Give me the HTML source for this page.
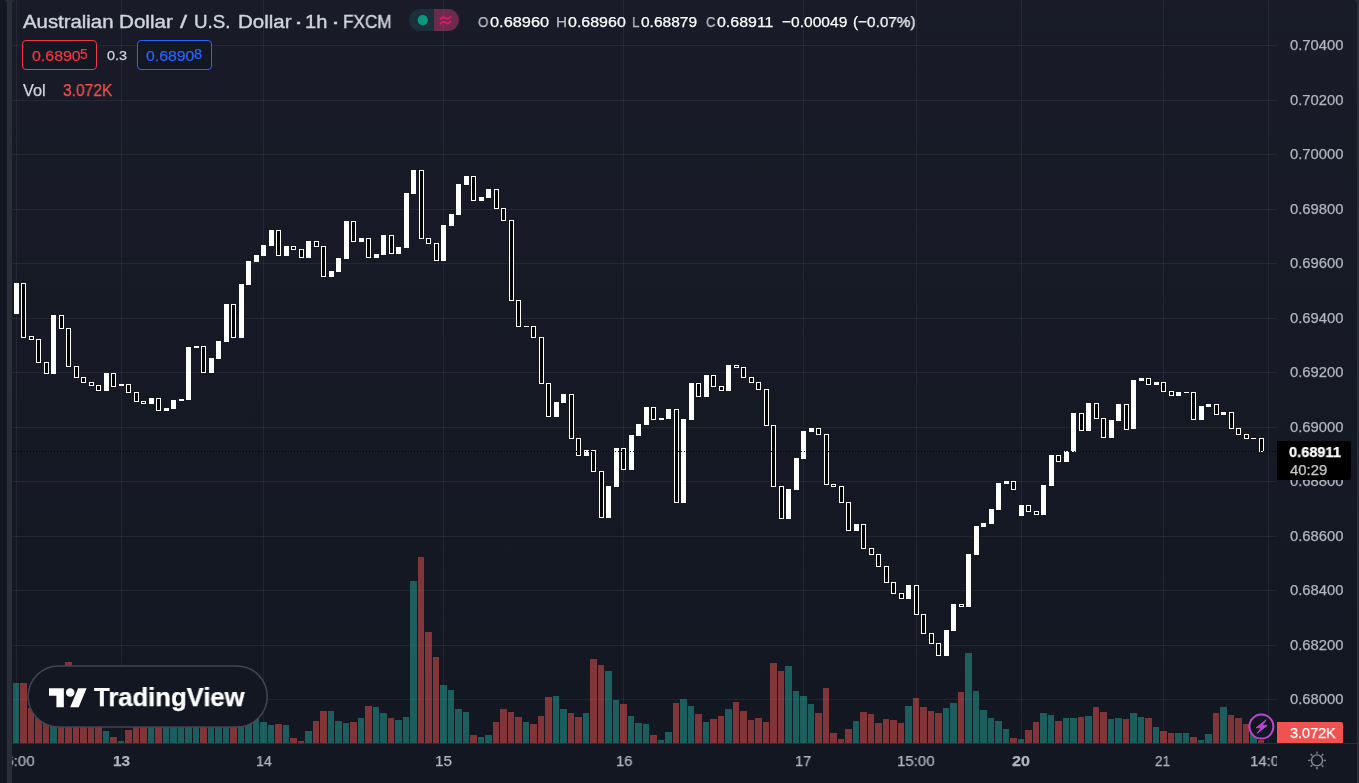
<!DOCTYPE html>
<html lang="en"><head><meta charset="utf-8"><title>AUDUSD 1h · FXCM — TradingView</title>
<style>
html,body{margin:0;padding:0}
body{width:1359px;height:783px;overflow:hidden;background:#2a2e39;position:relative;font-family:"Liberation Sans",sans-serif}
#strip{position:absolute;left:0;top:0;width:7px;height:783px;background:#131722;border-top-right-radius:4px}
#chart{position:absolute;left:0;top:0;width:1359px;height:783px;display:block}
.t{-webkit-text-stroke:0.25px currentColor;position:absolute;white-space:nowrap;line-height:1;transform-origin:0 50%;display:block;will-change:transform}
.box{position:absolute;box-sizing:border-box;border-radius:4px}
#clipL{position:absolute;left:12px;top:744px;width:1265px;height:39px;overflow:hidden}
#logo{position:absolute;left:28px;top:666px;width:240px;height:62px}
</style></head>
<body>
<div id="strip"></div>
<svg id="chart" width="1359" height="783" viewBox="0 0 1359 783">
<defs><linearGradient id="bg" x1="0" y1="0" x2="0" y2="1"><stop offset="0" stop-color="#191c28"/><stop offset="1" stop-color="#131722"/></linearGradient></defs>
<path d="M12 743V4a4 4 0 0 1 4-4H1353a4 4 0 0 1 4 4V743z" fill="url(#bg)"/>
<rect x="12" y="743" width="1345" height="40" fill="#131722" shape-rendering="crispEdges"/>
<rect x="12" y="743" width="1345" height="1" fill="#2a2e39" shape-rendering="crispEdges"/>
<g fill="#f0f3fa" fill-opacity="0.062" shape-rendering="crispEdges"><rect x="16" y="0" width="1" height="743"/><rect x="121" y="0" width="1" height="743"/><rect x="263" y="0" width="1" height="743"/><rect x="443" y="0" width="1" height="743"/><rect x="623" y="0" width="1" height="743"/><rect x="803" y="0" width="1" height="743"/><rect x="916" y="0" width="1" height="743"/><rect x="1021" y="0" width="1" height="743"/><rect x="1163" y="0" width="1" height="743"/><rect x="1268" y="0" width="1" height="743"/><rect x="12" y="45" width="1265" height="1"/><rect x="12" y="100" width="1265" height="1"/><rect x="12" y="154" width="1265" height="1"/><rect x="12" y="209" width="1265" height="1"/><rect x="12" y="263" width="1265" height="1"/><rect x="12" y="318" width="1265" height="1"/><rect x="12" y="372" width="1265" height="1"/><rect x="12" y="427" width="1265" height="1"/><rect x="12" y="481" width="1265" height="1"/><rect x="12" y="536" width="1265" height="1"/><rect x="12" y="590" width="1265" height="1"/><rect x="12" y="645" width="1265" height="1"/><rect x="12" y="699" width="1265" height="1"/></g>
<g><path d="M420 9H434V31H420a11 11 0 0 1 0-22z" fill="#1b303a"/><path d="M434 9H448a11 11 0 0 1 0 22H434z" fill="#6c2a4d"/><circle cx="422.8" cy="20.2" r="5.1" fill="#089981"/><path d="M440.4 19.3c1.6-2.4 3.4-2.6 5.2-1.3s3.5 1.0 5.0-1.3M440.4 24.0c1.6-2.4 3.4-2.6 5.2-1.3s3.5 1.0 5.0-1.3" stroke="#dc1b60" stroke-width="1.85" fill="none" stroke-linecap="round"/></g>
<rect x="443" y="9" width="1" height="22" fill="#f0f3fa" fill-opacity="0.035" shape-rendering="crispEdges"/>
<g fill="#26a69a" fill-opacity="0.5" shape-rendering="crispEdges"><rect x="13" y="683" width="6" height="60"/><rect x="50" y="700" width="7" height="43"/><rect x="103" y="731" width="6" height="12"/><rect x="118" y="741" width="6" height="2"/><rect x="148" y="705" width="6" height="38"/><rect x="163" y="705" width="6" height="38"/><rect x="170" y="705" width="7" height="38"/><rect x="178" y="705" width="6" height="38"/><rect x="185" y="705" width="7" height="38"/><rect x="193" y="705" width="6" height="38"/><rect x="208" y="705" width="6" height="38"/><rect x="215" y="705" width="7" height="38"/><rect x="223" y="705" width="6" height="38"/><rect x="238" y="705" width="6" height="38"/><rect x="245" y="705" width="7" height="38"/><rect x="253" y="719" width="6" height="24"/><rect x="260" y="722" width="7" height="21"/><rect x="268" y="725" width="6" height="18"/><rect x="283" y="725" width="6" height="18"/><rect x="305" y="731" width="7" height="12"/><rect x="328" y="711" width="6" height="32"/><rect x="335" y="721" width="7" height="22"/><rect x="343" y="723" width="6" height="20"/><rect x="358" y="718" width="6" height="25"/><rect x="373" y="707" width="6" height="36"/><rect x="380" y="713" width="7" height="30"/><rect x="395" y="720" width="7" height="23"/><rect x="403" y="717" width="6" height="26"/><rect x="410" y="581" width="7" height="162"/><rect x="440" y="685" width="7" height="58"/><rect x="448" y="690" width="6" height="53"/><rect x="455" y="709" width="7" height="34"/><rect x="463" y="712" width="6" height="31"/><rect x="478" y="737" width="6" height="6"/><rect x="485" y="735" width="7" height="8"/><rect x="523" y="722" width="6" height="21"/><rect x="553" y="696" width="6" height="47"/><rect x="560" y="709" width="7" height="34"/><rect x="583" y="713" width="6" height="30"/><rect x="605" y="671" width="7" height="72"/><rect x="613" y="700" width="6" height="43"/><rect x="628" y="716" width="6" height="27"/><rect x="635" y="723" width="7" height="20"/><rect x="643" y="724" width="6" height="19"/><rect x="658" y="740" width="6" height="3"/><rect x="665" y="732" width="7" height="11"/><rect x="680" y="699" width="7" height="44"/><rect x="688" y="706" width="6" height="37"/><rect x="703" y="722" width="6" height="21"/><rect x="725" y="709" width="7" height="34"/><rect x="785" y="666" width="7" height="77"/><rect x="793" y="691" width="6" height="52"/><rect x="800" y="696" width="7" height="47"/><rect x="808" y="704" width="6" height="39"/><rect x="853" y="721" width="6" height="22"/><rect x="905" y="706" width="7" height="37"/><rect x="943" y="708" width="6" height="35"/><rect x="950" y="703" width="7" height="40"/><rect x="965" y="653" width="7" height="90"/><rect x="973" y="691" width="6" height="52"/><rect x="980" y="710" width="7" height="33"/><rect x="988" y="718" width="6" height="25"/><rect x="995" y="721" width="7" height="22"/><rect x="1003" y="729" width="6" height="14"/><rect x="1018" y="739" width="6" height="4"/><rect x="1040" y="713" width="7" height="30"/><rect x="1048" y="715" width="6" height="28"/><rect x="1063" y="718" width="6" height="25"/><rect x="1070" y="718" width="7" height="25"/><rect x="1085" y="716" width="7" height="27"/><rect x="1108" y="719" width="6" height="24"/><rect x="1115" y="718" width="7" height="25"/><rect x="1130" y="713" width="7" height="30"/><rect x="1138" y="717" width="6" height="26"/><rect x="1153" y="727" width="6" height="16"/><rect x="1175" y="733" width="7" height="10"/><rect x="1183" y="733" width="6" height="10"/><rect x="1198" y="740" width="6" height="3"/><rect x="1205" y="734" width="7" height="9"/><rect x="1220" y="707" width="7" height="36"/><rect x="1250" y="719" width="7" height="24"/></g>
<g fill="#ef5350" fill-opacity="0.5" shape-rendering="crispEdges"><rect x="20" y="683" width="7" height="60"/><rect x="28" y="708" width="6" height="35"/><rect x="35" y="718" width="7" height="25"/><rect x="43" y="700" width="6" height="43"/><rect x="58" y="700" width="6" height="43"/><rect x="65" y="662" width="7" height="81"/><rect x="73" y="700" width="6" height="43"/><rect x="80" y="700" width="7" height="43"/><rect x="88" y="700" width="6" height="43"/><rect x="95" y="700" width="7" height="43"/><rect x="110" y="737" width="7" height="6"/><rect x="125" y="730" width="7" height="13"/><rect x="133" y="705" width="6" height="38"/><rect x="140" y="705" width="7" height="38"/><rect x="155" y="705" width="7" height="38"/><rect x="200" y="705" width="7" height="38"/><rect x="230" y="705" width="7" height="38"/><rect x="275" y="724" width="7" height="19"/><rect x="290" y="738" width="7" height="5"/><rect x="298" y="741" width="6" height="2"/><rect x="313" y="721" width="6" height="22"/><rect x="320" y="711" width="7" height="32"/><rect x="350" y="722" width="7" height="21"/><rect x="365" y="706" width="7" height="37"/><rect x="388" y="718" width="6" height="25"/><rect x="418" y="557" width="6" height="186"/><rect x="425" y="632" width="7" height="111"/><rect x="433" y="657" width="6" height="86"/><rect x="470" y="735" width="7" height="8"/><rect x="493" y="722" width="6" height="21"/><rect x="500" y="709" width="7" height="34"/><rect x="508" y="712" width="6" height="31"/><rect x="515" y="717" width="7" height="26"/><rect x="530" y="724" width="7" height="19"/><rect x="538" y="716" width="6" height="27"/><rect x="545" y="697" width="7" height="46"/><rect x="568" y="713" width="6" height="30"/><rect x="575" y="717" width="7" height="26"/><rect x="590" y="659" width="7" height="84"/><rect x="598" y="665" width="6" height="78"/><rect x="620" y="704" width="7" height="39"/><rect x="650" y="735" width="7" height="8"/><rect x="673" y="703" width="6" height="40"/><rect x="695" y="714" width="7" height="29"/><rect x="710" y="719" width="7" height="24"/><rect x="718" y="716" width="6" height="27"/><rect x="733" y="702" width="6" height="41"/><rect x="740" y="711" width="7" height="32"/><rect x="748" y="720" width="6" height="23"/><rect x="755" y="718" width="7" height="25"/><rect x="763" y="722" width="6" height="21"/><rect x="770" y="663" width="7" height="80"/><rect x="778" y="671" width="6" height="72"/><rect x="815" y="713" width="7" height="30"/><rect x="823" y="688" width="6" height="55"/><rect x="830" y="733" width="7" height="10"/><rect x="838" y="739" width="6" height="4"/><rect x="845" y="729" width="7" height="14"/><rect x="860" y="712" width="7" height="31"/><rect x="868" y="714" width="6" height="29"/><rect x="875" y="723" width="7" height="20"/><rect x="883" y="719" width="6" height="24"/><rect x="890" y="720" width="7" height="23"/><rect x="898" y="723" width="6" height="20"/><rect x="913" y="698" width="6" height="45"/><rect x="920" y="707" width="7" height="36"/><rect x="928" y="711" width="6" height="32"/><rect x="935" y="713" width="7" height="30"/><rect x="958" y="692" width="6" height="51"/><rect x="1010" y="738" width="7" height="5"/><rect x="1025" y="730" width="7" height="13"/><rect x="1033" y="722" width="6" height="21"/><rect x="1055" y="721" width="7" height="22"/><rect x="1078" y="717" width="6" height="26"/><rect x="1093" y="707" width="6" height="36"/><rect x="1100" y="712" width="7" height="31"/><rect x="1123" y="719" width="6" height="24"/><rect x="1145" y="718" width="7" height="25"/><rect x="1160" y="731" width="7" height="12"/><rect x="1168" y="733" width="6" height="10"/><rect x="1190" y="737" width="7" height="6"/><rect x="1213" y="713" width="6" height="30"/><rect x="1228" y="715" width="6" height="28"/><rect x="1235" y="718" width="7" height="25"/><rect x="1243" y="724" width="6" height="19"/><rect x="1258" y="740" width="6" height="3"/></g>
<g fill="#fff" shape-rendering="crispEdges"><rect x="14" y="283" width="5" height="31"/><rect x="51" y="315" width="5" height="59"/><rect x="104" y="373" width="5" height="18"/><rect x="119" y="384" width="5" height="2"/><rect x="149" y="398" width="5" height="6"/><rect x="164" y="408" width="5" height="3"/><rect x="171" y="400" width="5" height="9"/><rect x="179" y="399" width="5" height="2"/><rect x="186" y="347" width="5" height="53"/><rect x="194" y="346" width="5" height="2"/><rect x="209" y="358" width="5" height="15"/><rect x="216" y="341" width="5" height="18"/><rect x="224" y="304" width="5" height="38"/><rect x="239" y="284" width="5" height="54"/><rect x="246" y="261" width="5" height="24"/><rect x="254" y="255" width="5" height="7"/><rect x="261" y="245" width="5" height="11"/><rect x="269" y="230" width="5" height="16"/><rect x="284" y="246" width="5" height="10"/><rect x="306" y="241" width="5" height="17"/><rect x="329" y="271" width="5" height="6"/><rect x="336" y="258" width="5" height="14"/><rect x="344" y="221" width="5" height="38"/><rect x="359" y="238" width="5" height="4"/><rect x="374" y="254" width="5" height="4"/><rect x="381" y="235" width="5" height="20"/><rect x="396" y="247" width="5" height="7"/><rect x="404" y="193" width="5" height="55"/><rect x="411" y="170" width="5" height="24"/><rect x="441" y="225" width="5" height="36"/><rect x="449" y="214" width="5" height="12"/><rect x="456" y="184" width="5" height="31"/><rect x="464" y="176" width="5" height="9"/><rect x="479" y="197" width="5" height="4"/><rect x="486" y="189" width="5" height="9"/><rect x="524" y="326" width="5" height="1"/><rect x="554" y="402" width="5" height="15"/><rect x="561" y="394" width="5" height="9"/><rect x="584" y="450" width="5" height="6"/><rect x="606" y="486" width="5" height="32"/><rect x="614" y="448" width="5" height="39"/><rect x="629" y="435" width="5" height="35"/><rect x="636" y="424" width="5" height="12"/><rect x="644" y="407" width="5" height="18"/><rect x="659" y="418" width="5" height="2"/><rect x="666" y="409" width="5" height="10"/><rect x="681" y="419" width="5" height="84"/><rect x="689" y="383" width="5" height="37"/><rect x="704" y="375" width="5" height="22"/><rect x="726" y="365" width="5" height="26"/><rect x="786" y="489" width="5" height="30"/><rect x="794" y="458" width="5" height="32"/><rect x="801" y="431" width="5" height="28"/><rect x="809" y="428" width="5" height="4"/><rect x="854" y="524" width="5" height="7"/><rect x="906" y="585" width="5" height="14"/><rect x="944" y="630" width="5" height="26"/><rect x="951" y="604" width="5" height="27"/><rect x="966" y="554" width="5" height="53"/><rect x="974" y="526" width="5" height="29"/><rect x="981" y="523" width="5" height="4"/><rect x="989" y="509" width="5" height="15"/><rect x="996" y="483" width="5" height="27"/><rect x="1004" y="481" width="5" height="3"/><rect x="1019" y="505" width="5" height="11"/><rect x="1041" y="485" width="5" height="30"/><rect x="1049" y="455" width="5" height="31"/><rect x="1064" y="451" width="5" height="11"/><rect x="1071" y="413" width="5" height="39"/><rect x="1086" y="403" width="5" height="28"/><rect x="1109" y="420" width="5" height="18"/><rect x="1116" y="404" width="5" height="17"/><rect x="1131" y="380" width="5" height="49"/><rect x="1139" y="378" width="5" height="3"/><rect x="1154" y="382" width="5" height="3"/><rect x="1176" y="392" width="5" height="4"/><rect x="1184" y="392" width="5" height="1"/><rect x="1199" y="406" width="5" height="14"/><rect x="1206" y="404" width="5" height="3"/><rect x="1221" y="412" width="5" height="3"/><rect x="1251" y="438" width="5" height="1"/></g>
<g fill="#000" stroke="#fff" stroke-width="1" shape-rendering="crispEdges"><rect x="21.5" y="283.5" width="4" height="54"/><rect x="29.5" y="336.5" width="4" height="3"/><rect x="36.5" y="339.5" width="4" height="23"/><rect x="44.5" y="362.5" width="4" height="11"/><rect x="59.5" y="315.5" width="4" height="13"/><rect x="66.5" y="328.5" width="4" height="38"/><rect x="74.5" y="366.5" width="4" height="11"/><rect x="81.5" y="377.5" width="4" height="5"/><rect x="89.5" y="382.5" width="4" height="3"/><rect x="96.5" y="385.5" width="4" height="5"/><rect x="111.5" y="373.5" width="4" height="13"/><rect x="126.5" y="384.5" width="4" height="8"/><rect x="134.5" y="392.5" width="4" height="9"/><rect x="141.5" y="401.5" width="4" height="2"/><rect x="156.5" y="398.5" width="4" height="12"/><rect x="201.5" y="346.5" width="4" height="26"/><rect x="231.5" y="304.5" width="4" height="33"/><rect x="276.5" y="230.5" width="4" height="25"/><rect x="291.5" y="246.5" width="4" height="3"/><rect x="299.5" y="249.5" width="4" height="8"/><rect x="314.5" y="241.5" width="4" height="5"/><rect x="321.5" y="246.5" width="4" height="30"/><rect x="351.5" y="221.5" width="4" height="20"/><rect x="366.5" y="238.5" width="4" height="19"/><rect x="389.5" y="235.5" width="4" height="18"/><rect x="419.5" y="170.5" width="4" height="68"/><rect x="426.5" y="238.5" width="4" height="5"/><rect x="434.5" y="243.5" width="4" height="17"/><rect x="471.5" y="176.5" width="4" height="24"/><rect x="494.5" y="189.5" width="4" height="19"/><rect x="501.5" y="208.5" width="4" height="12"/><rect x="509.5" y="220.5" width="4" height="80"/><rect x="516.5" y="300.5" width="4" height="26"/><rect x="531.5" y="326.5" width="4" height="11"/><rect x="539.5" y="337.5" width="4" height="46"/><rect x="546.5" y="383.5" width="4" height="33"/><rect x="569.5" y="394.5" width="4" height="44"/><rect x="576.5" y="438.5" width="4" height="17"/><rect x="591.5" y="450.5" width="4" height="21"/><rect x="599.5" y="471.5" width="4" height="46"/><rect x="621.5" y="448.5" width="4" height="21"/><rect x="651.5" y="407.5" width="4" height="12"/><rect x="674.5" y="409.5" width="4" height="93"/><rect x="696.5" y="383.5" width="4" height="13"/><rect x="711.5" y="375.5" width="4" height="11"/><rect x="719.5" y="386.5" width="4" height="4"/><rect x="734.5" y="365.5" width="4" height="2"/><rect x="741.5" y="367.5" width="4" height="10"/><rect x="749.5" y="377.5" width="4" height="5"/><rect x="756.5" y="382.5" width="4" height="7"/><rect x="764.5" y="389.5" width="4" height="36"/><rect x="771.5" y="425.5" width="4" height="61"/><rect x="779.5" y="486.5" width="4" height="32"/><rect x="816.5" y="428.5" width="4" height="6"/><rect x="824.5" y="434.5" width="4" height="50"/><rect x="831.5" y="484.5" width="4" height="2"/><rect x="839.5" y="486.5" width="4" height="16"/><rect x="846.5" y="502.5" width="4" height="28"/><rect x="861.5" y="524.5" width="4" height="24"/><rect x="869.5" y="548.5" width="4" height="6"/><rect x="876.5" y="554.5" width="4" height="12"/><rect x="884.5" y="566.5" width="4" height="16"/><rect x="891.5" y="582.5" width="4" height="11"/><rect x="899.5" y="593.5" width="4" height="5"/><rect x="914.5" y="585.5" width="4" height="29"/><rect x="921.5" y="614.5" width="4" height="19"/><rect x="929.5" y="633.5" width="4" height="10"/><rect x="936.5" y="643.5" width="4" height="12"/><rect x="959.5" y="604.5" width="4" height="2"/><rect x="1011.5" y="481.5" width="4" height="8"/><rect x="1026.5" y="505.5" width="4" height="6"/><rect x="1034.5" y="511.5" width="4" height="3"/><rect x="1056.5" y="455.5" width="4" height="6"/><rect x="1079.5" y="413.5" width="4" height="17"/><rect x="1094.5" y="403.5" width="4" height="15"/><rect x="1101.5" y="418.5" width="4" height="19"/><rect x="1124.5" y="404.5" width="4" height="25"/><rect x="1146.5" y="378.5" width="4" height="6"/><rect x="1161.5" y="382.5" width="4" height="9"/><rect x="1169.5" y="391.5" width="4" height="4"/><rect x="1191.5" y="392.5" width="4" height="27"/><rect x="1214.5" y="404.5" width="4" height="10"/><rect x="1229.5" y="412.5" width="4" height="16"/><rect x="1236.5" y="428.5" width="4" height="6"/><rect x="1244.5" y="434.5" width="4" height="4"/><rect x="1259.5" y="438.5" width="4" height="13"/></g>
<line x1="12" y1="451.5" x2="1277" y2="451.5" stroke="#000" stroke-width="1" stroke-dasharray="1 2" shape-rendering="crispEdges"/>
<path d="M1277 722H1341a2 2 0 0 1 2 2V743H1277z" fill="#ef5350"/>
<g><circle cx="1261.4" cy="726.6" r="12" fill="#131722" stroke="#bb47d3" stroke-width="2"/><path d="M1266.1 719.9L1256.2 727.7H1261.4L1257.4 733.2L1267.1 725.4H1262.1z" fill="#bb47d3" stroke="#bb47d3" stroke-width="1" stroke-linejoin="round"/></g>
<g stroke="#868993" stroke-width="1.4" fill="none"><circle cx="1317" cy="760.4" r="5.5"/><line x1="1317.00" y1="767.00" x2="1317.00" y2="769.30"/><line x1="1312.33" y1="765.07" x2="1310.71" y2="766.69"/><line x1="1310.40" y1="760.40" x2="1308.10" y2="760.40"/><line x1="1312.33" y1="755.73" x2="1310.71" y2="754.11"/><line x1="1317.00" y1="753.80" x2="1317.00" y2="751.50"/><line x1="1321.67" y1="755.73" x2="1323.29" y2="754.11"/><line x1="1323.60" y1="760.40" x2="1325.90" y2="760.40"/><line x1="1321.67" y1="765.07" x2="1323.29" y2="766.69"/></g>
</svg>
<div class="box" style="left:22px;top:40px;width:75px;height:30px;border:1px solid #f23645;background:#131722"></div>
<div class="box" style="left:137px;top:40px;width:75px;height:30px;border:1px solid #2962ff;background:#131722"></div>
<span class="t" style="left:23.30px;top:13px;font-size:18.16px;color:#d1d4dc;transform:scaleX(1.1210);-webkit-text-stroke:0.4px #d1d4dc;">Australian</span>
<span class="t" style="left:118.68px;top:13px;font-size:18.16px;color:#d1d4dc;transform:scaleX(1.1348);-webkit-text-stroke:0.4px #d1d4dc;">Dollar</span>
<span class="t" style="left:180.35px;top:13px;font-size:18.16px;color:#d1d4dc;transform:scaleX(1.4000);-webkit-text-stroke:0.4px #d1d4dc;">/</span>
<span class="t" style="left:194.11px;top:13px;font-size:18.16px;color:#d1d4dc;transform:scaleX(1.0308);-webkit-text-stroke:0.4px #d1d4dc;">U.S.</span>
<span class="t" style="left:237.79px;top:13px;font-size:18.16px;color:#d1d4dc;transform:scaleX(1.1272);-webkit-text-stroke:0.4px #d1d4dc;">Dollar</span>
<span class="t" style="left:294.20px;top:13px;font-size:18.16px;color:#d1d4dc;transform:scaleX(1.5000);-webkit-text-stroke:0.4px #d1d4dc;">·</span>
<span class="t" style="left:305.42px;top:13px;font-size:18.16px;color:#d1d4dc;transform:scaleX(1.1056);-webkit-text-stroke:0.4px #d1d4dc;">1h</span>
<span class="t" style="left:330.60px;top:13px;font-size:18.16px;color:#d1d4dc;transform:scaleX(1.5000);-webkit-text-stroke:0.4px #d1d4dc;">·</span>
<span class="t" style="left:342.82px;top:13px;font-size:18.16px;color:#d1d4dc;transform:scaleX(0.9456);-webkit-text-stroke:0.4px #d1d4dc;">FXCM</span>
<span class="t" style="left:478.37px;top:14px;font-size:15.36px;color:#b9bcc5;transform:scaleX(0.8651);">O</span>
<span class="t" style="left:489.77px;top:14px;font-size:15.36px;color:#ffffff;transform:scaleX(1.0661);">0.68960</span>
<span class="t" style="left:555.80px;top:14px;font-size:15.36px;color:#b9bcc5;transform:scaleX(1.0000);">H</span>
<span class="t" style="left:567.68px;top:14px;font-size:15.36px;color:#ffffff;transform:scaleX(1.0404);">0.68960</span>
<span class="t" style="left:632.12px;top:14px;font-size:15.36px;color:#b9bcc5;transform:scaleX(0.8828);">L</span>
<span class="t" style="left:641.30px;top:14px;font-size:15.36px;color:#ffffff;transform:scaleX(1.0092);">0.68879</span>
<span class="t" style="left:706.26px;top:14px;font-size:15.36px;color:#b9bcc5;transform:scaleX(0.8500);">C</span>
<span class="t" style="left:717.08px;top:14px;font-size:15.36px;color:#ffffff;transform:scaleX(1.0385);">0.68911</span>
<span class="t" style="left:781.69px;top:14px;font-size:15.36px;color:#ffffff;transform:scaleX(1.0126);">−0.00049</span>
<span class="t" style="left:852.55px;top:14px;font-size:15.36px;color:#ffffff;transform:scaleX(0.9943);">(−0.07%)</span>
<span class="t" style="left:31.68px;top:48px;font-size:15.36px;color:#f23645;transform:scaleX(1.0370);">0.6890</span>
<span class="t" style="left:80.41px;top:48px;font-size:13.83px;color:#f23645;transform:scaleX(0.9778);">5</span>
<span class="t" style="left:106.93px;top:49px;font-size:13.55px;color:#d1d4dc;transform:scaleX(1.0630);">0.3</span>
<span class="t" style="left:145.88px;top:48px;font-size:15.36px;color:#2962ff;transform:scaleX(1.0304);">0.6890</span>
<span class="t" style="left:194.18px;top:48px;font-size:13.97px;color:#2962ff;transform:scaleX(1.0370);">8</span>
<span class="t" style="left:23.30px;top:82px;font-size:16.2px;color:#d1d4dc;transform:scaleX(1.0047);">Vol</span>
<span class="t" style="left:62.51px;top:83px;font-size:15.92px;color:#ef5350;transform:scaleX(0.9800);">3.072K</span>
<span class="t" style="left:1289.60px;top:38px;font-size:14.66px;color:#b2b5be;transform:scaleX(1.0096);">0.70400</span>
<span class="t" style="left:1289.60px;top:93px;font-size:14.66px;color:#b2b5be;transform:scaleX(1.0096);">0.70200</span>
<span class="t" style="left:1289.60px;top:147px;font-size:14.66px;color:#b2b5be;transform:scaleX(1.0096);">0.70000</span>
<span class="t" style="left:1289.60px;top:202px;font-size:14.66px;color:#b2b5be;transform:scaleX(1.0096);">0.69800</span>
<span class="t" style="left:1289.60px;top:256px;font-size:14.66px;color:#b2b5be;transform:scaleX(1.0096);">0.69600</span>
<span class="t" style="left:1289.60px;top:311px;font-size:14.66px;color:#b2b5be;transform:scaleX(1.0096);">0.69400</span>
<span class="t" style="left:1289.60px;top:365px;font-size:14.66px;color:#b2b5be;transform:scaleX(1.0096);">0.69200</span>
<span class="t" style="left:1289.60px;top:420px;font-size:14.66px;color:#b2b5be;transform:scaleX(1.0096);">0.69000</span>
<span class="t" style="left:1289.60px;top:474px;font-size:14.66px;color:#b2b5be;transform:scaleX(1.0096);">0.68800</span>
<span class="t" style="left:1289.60px;top:529px;font-size:14.66px;color:#b2b5be;transform:scaleX(1.0096);">0.68600</span>
<span class="t" style="left:1289.60px;top:583px;font-size:14.66px;color:#b2b5be;transform:scaleX(1.0096);">0.68400</span>
<span class="t" style="left:1289.60px;top:638px;font-size:14.66px;color:#b2b5be;transform:scaleX(1.0096);">0.68200</span>
<span class="t" style="left:1289.60px;top:692px;font-size:14.66px;color:#b2b5be;transform:scaleX(1.0096);">0.68000</span>
<span class="t" style="left:112.55px;top:753px;font-size:15.36px;color:#b2b5be;font-weight:700;transform:scaleX(1.0000);">13</span>
<span class="t" style="left:255.77px;top:753px;font-size:15.36px;color:#b2b5be;transform:scaleX(0.9270);">14</span>
<span class="t" style="left:435.18px;top:753px;font-size:15.36px;color:#b2b5be;transform:scaleX(0.9742);">15</span>
<span class="t" style="left:615.59px;top:753px;font-size:15.36px;color:#b2b5be;transform:scaleX(0.9613);">16</span>
<span class="t" style="left:795.45px;top:753px;font-size:15.36px;color:#b2b5be;transform:scaleX(0.9548);">17</span>
<span class="t" style="left:896.92px;top:753px;font-size:15.36px;color:#b2b5be;transform:scaleX(0.9784);">15:00</span>
<span class="t" style="left:1012.09px;top:753px;font-size:15.36px;color:#b2b5be;font-weight:700;transform:scaleX(1.0485);">20</span>
<span class="t" style="left:1155.26px;top:753px;font-size:15.36px;color:#b2b5be;transform:scaleX(0.8875);">21</span>
<div id="clipL">
<span class="t" style="left:-15.18px;top:9px;font-size:15.36px;color:#b2b5be;transform:scaleX(0.9784);">16:00</span>
<span class="t" style="left:1237.82px;top:9px;font-size:15.36px;color:#b2b5be;transform:scaleX(0.9784);">14:00</span>
</div>
<div style="position:absolute;left:1277px;top:441px;width:74px;height:39px;background:#000;border-radius:0 2px 2px 0"></div>
<span class="t" style="left:1289.42px;top:444px;font-size:15.22px;color:#ffffff;font-weight:700;transform:scaleX(0.9589);">0.68911</span>
<span class="t" style="left:1289.65px;top:463px;font-size:14.94px;color:#c9c9c9;transform:scaleX(0.9973);">40:29</span>
<span class="t" style="left:1289.70px;top:726px;font-size:14.53px;color:#ffffff;transform:scaleX(0.9934);">3.072K</span>
<div id="logo">
<svg style="position:absolute;left:-2px;top:-2px" width="244" height="66" viewBox="-2 -2 244 66"><rect x="0.15" y="-0.05" width="239.1" height="61.1" rx="30.5" fill="#131722" stroke="#434651" stroke-width="1.5"/></svg>
<svg style="position:absolute;left:21.10px;top:17.66px" width="38.16" height="29.68" viewBox="0 0 36 28"><path d="M14 22H7V11H0V4h14v18zM28 22h-8l7.5-18h8L28 22z" fill="#fff"/><circle cx="20" cy="8" r="4" fill="#fff"/></svg>
<span class="t" style="left:65.95px;top:18px;font-size:25.98px;color:#ffffff;font-weight:700;transform:scaleX(0.9875);">TradingView</span>
</div>
</body></html>
